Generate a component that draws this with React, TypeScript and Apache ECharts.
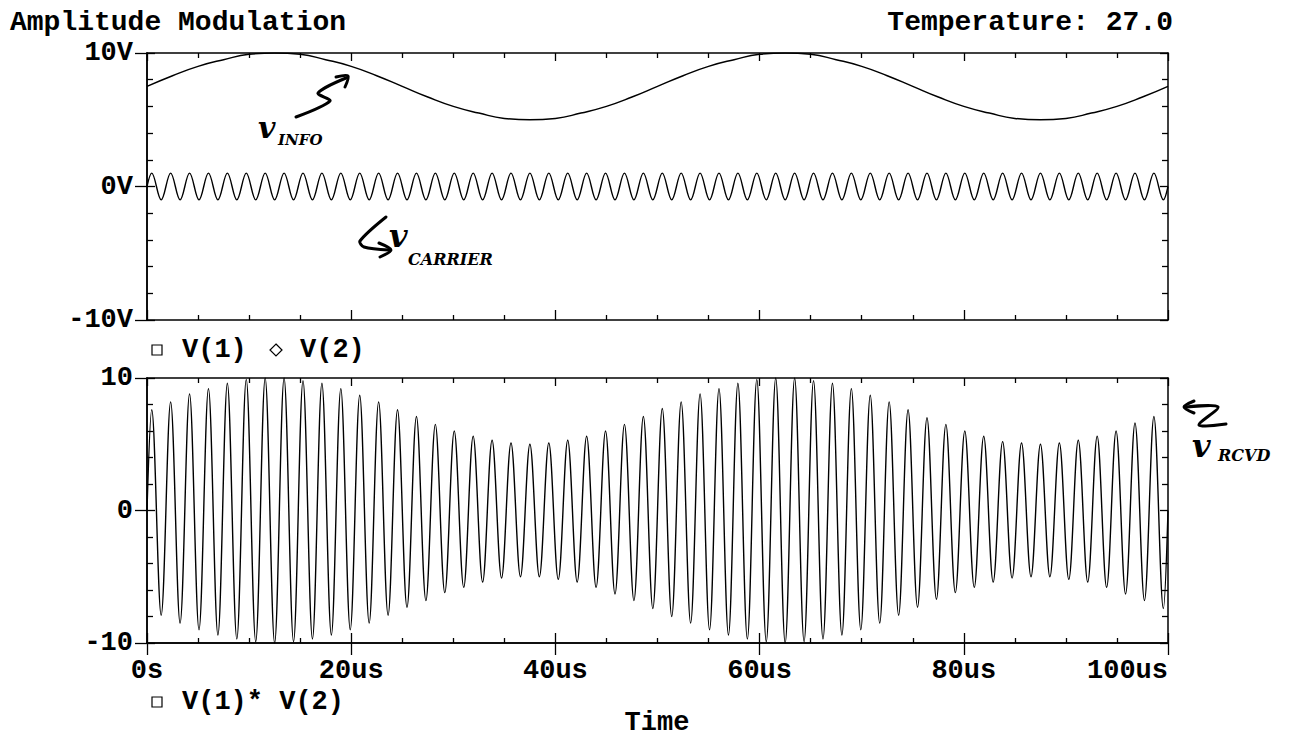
import React, { useEffect, useRef } from "react";
import * as echarts from "echarts";

// ---------- data ----------
const TIME_MIN_US = 0;
const TIME_MAX_US = 100;
const X_TICK_LABELS: Record<number, string> = { 0: "0s", 20: "20us", 40: "40us", 60: "60us", 80: "80us", 100: "100us" };
const TOP_Y_LABELS: Record<number, string> = { 10: "10V", 0: "0V", "-10": "-10V" } as any;
const BOTTOM_Y_LABELS: Record<number, string> = { 10: "10", 0: "0", "-10": "-10" } as any;

// V(1): information signal, sampled every 2.5 us
const INFO_TIME_US = [
  0, 2.5, 5, 7.5, 10, 12.5, 15, 17.5, 20, 22.5, 25, 27.5, 30, 32.5, 35, 37.5, 40, 42.5, 45, 47.5,
  50, 52.5, 55, 57.5, 60, 62.5, 65, 67.5, 70, 72.5, 75, 77.5, 80, 82.5, 85, 87.5, 90, 92.5, 95, 97.5, 100,
];
const INFO_V = [
  7.5, 8.3, 9.0, 9.5, 9.9, 10.0, 9.9, 9.5, 9.0, 8.3, 7.5, 6.7, 6.0, 5.5, 5.1, 5.0, 5.1, 5.5, 6.0, 6.7,
  7.5, 8.3, 9.0, 9.5, 9.9, 10.0, 9.9, 9.5, 9.0, 8.3, 7.5, 6.7, 6.0, 5.5, 5.1, 5.0, 5.1, 5.5, 6.0, 6.7, 7.5,
];

// carrier: successive peak values (one per half cycle), read at the peaks
const CARRIER_HALF_PERIOD_US = 0.926;
const FIRST_PEAK_US = 0.463;
const CARRIER_START_V = 0;
const CARRIER_END_V = 0;
const CARRIER_PEAK_V = [
  1, -1, 1, -1, 1, -1, 1, -1, 1, -1, 1, -1, 1, -1, 1, -1, 1, -1, 1, -1,
  1, -1, 1, -1, 1, -1, 1, -1, 1, -1, 1, -1, 1, -1, 1, -1, 1, -1, 1, -1,
  1, -1, 1, -1, 1, -1, 1, -1, 1, -1, 1, -1, 1, -1, 1, -1, 1, -1, 1, -1,
  1, -1, 1, -1, 1, -1, 1, -1, 1, -1, 1, -1, 1, -1, 1, -1, 1, -1, 1, -1,
  1, -1, 1, -1, 1, -1, 1, -1, 1, -1, 1, -1, 1, -1, 1, -1, 1, -1, 1, -1,
  1, -1, 1, -1, 1, -1, 1, -1,
];

// V(1)*V(2): successive peak values of the received signal
const PRODUCT_START_V = 0;
const PRODUCT_END_V = 0;
const PRODUCT_PEAK_V = [
  7.6, -7.9, 8.2, -8.5, 8.8, -9.0, 9.2, -9.4, 9.6, -9.7, 9.9, -9.9, 10.0, -10.0, 10.0, -9.9, 9.8, -9.7, 9.6, -9.4,
  9.2, -9.0, 8.7, -8.5, 8.2, -7.9, 7.6, -7.3, 7.1, -6.8, 6.5, -6.2, 6.0, -5.8, 5.6, -5.4, 5.3, -5.1, 5.1, -5.0,
  5.0, -5.0, 5.1, -5.2, 5.3, -5.4, 5.6, -5.8, 6.0, -6.3, 6.5, -6.8, 7.1, -7.4, 7.7, -8.0, 8.2, -8.5, 8.8, -9.0,
  9.2, -9.4, 9.6, -9.7, 9.9, -9.9, 10.0, -10.0, 10.0, -9.9, 9.8, -9.7, 9.6, -9.4, 9.2, -9.0, 8.7, -8.5, 8.2, -7.9,
  7.6, -7.3, 7.0, -6.7, 6.5, -6.2, 6.0, -5.8, 5.6, -5.4, 5.2, -5.1, 5.1, -5.0, 5.0, -5.0, 5.1, -5.2, 5.3, -5.4,
  5.6, -5.8, 6.0, -6.3, 6.6, -6.8, 7.1, -7.4,
];

// ---------- helpers ----------
const peakSeries = (start: number, peaks: number[], end: number) => {
  const pts: number[][] = [[TIME_MIN_US, start]];
  peaks.forEach((v, i) => pts.push([FIRST_PEAK_US + i * CARRIER_HALF_PERIOD_US, v]));
  pts.push([TIME_MAX_US, end]);
  return pts;
};

const FONT = '"Liberation Mono", "Courier New", monospace';
const FS = 27;
const TITLE_FS = 28;
const BLACK = "#000";
const HAND = '"DejaVu Serif", serif';

const lineAxis = { show: true, onZero: false, lineStyle: { color: BLACK, width: 1.5 } };

const xInside = (gridIndex: number, position: "top" | "bottom", major: number) => ({
  type: "value",
  gridIndex,
  position,
  min: TIME_MIN_US,
  max: TIME_MAX_US,
  interval: 20,
  axisLine: lineAxis,
  axisTick: { show: true, inside: true, length: major, lineStyle: { color: BLACK, width: 1.3 } },
  minorTick: { show: true, splitNumber: 4, length: 5, lineStyle: { color: BLACK, width: 1.3 } },
  axisLabel: { show: false },
  splitLine: { show: false },
  minorSplitLine: { show: false },
});

const yInside = (gridIndex: number, position: "left" | "right") => ({
  type: "value",
  gridIndex,
  position,
  min: -10,
  max: 10,
  interval: 10,
  axisLine: lineAxis,
  axisTick: { show: true, inside: true, length: 8, lineStyle: { color: BLACK, width: 1.3 } },
  minorTick: { show: true, splitNumber: 5, length: 6, lineStyle: { color: BLACK, width: 1.3 } },
  axisLabel: { show: false },
  splitLine: { show: false },
  minorSplitLine: { show: false },
});

const yLabelled = (gridIndex: number, labels: Record<number, string>) => ({
  type: "value",
  gridIndex,
  position: "left",
  min: -10,
  max: 10,
  interval: 10,
  axisLine: lineAxis,
  axisTick: { show: true, inside: false, length: 12, lineStyle: { color: BLACK, width: 1.3 } },
  axisLabel: {
    show: true,
    margin: 14,
    color: BLACK,
    fontFamily: FONT,
    fontWeight: "bold",
    fontSize: FS,
    formatter: (v: number) => labels[v] ?? "",
  },
  splitLine: { show: false },
});

const text = (t: string, x: number, y: number, extra: any = {}, size = FS) => ({
  type: "text",
  x,
  y,
  silent: true,
  style: {
    text: t,
    fill: BLACK,
    font: `bold ${size}px ${FONT}`,
    textAlign: "left",
    textVerticalAlign: "middle",
    ...extra,
  },
});

const hand = (t: string, x: number, y: number, size: number) => ({
  type: "text",
  x,
  y,
  silent: true,
  style: {
    text: t,
    fill: BLACK,
    font: `italic bold ${size}px ${HAND}`,
    textAlign: "left",
    textVerticalAlign: "middle",
  },
});

const stroke = (points: number[][], w = 3) => ({
  type: "polyline",
  silent: true,
  shape: { points, smooth: 0.3 },
  style: { stroke: BLACK, lineWidth: w, fill: "none", lineCap: "round", lineJoin: "round" },
});

const square = (x: number, y: number) => ({
  type: "rect",
  silent: true,
  shape: { x: x, y: y - 5, width: 10, height: 10 },
  style: { stroke: BLACK, lineWidth: 1.2, fill: "#fff" },
});

const diamond = (cx: number, cy: number) => ({
  type: "polygon",
  silent: true,
  shape: { points: [[cx, cy - 6], [cx + 6, cy], [cx, cy + 6], [cx - 6, cy]] },
  style: { stroke: BLACK, lineWidth: 1.2, fill: "#fff" },
});

const option: any = {
  animation: false,
  backgroundColor: "#fff",
  grid: [
    { left: 147, top: 53, width: 1021, height: 267, containLabel: false, outerBoundsMode: "none" },
    { left: 147, top: 378, width: 1021, height: 265, containLabel: false, outerBoundsMode: "none" },
  ],
  xAxis: [
    xInside(0, "bottom", 10),
    xInside(0, "top", 8),
    {
      type: "value",
      gridIndex: 1,
      position: "bottom",
      min: TIME_MIN_US,
      max: TIME_MAX_US,
      interval: 20,
      axisLine: lineAxis,
      axisTick: { show: true, inside: false, length: 12, lineStyle: { color: BLACK, width: 1.3 } },
      axisLabel: {
        show: true,
        margin: 14,
        color: BLACK,
        fontFamily: FONT,
        fontWeight: "bold",
        fontSize: FS,
        showMinLabel: true,
        showMaxLabel: true,
        alignMaxLabel: "right",
        formatter: (v: number) => X_TICK_LABELS[v] ?? "",
      },
      splitLine: { show: false },
    },
    xInside(1, "bottom", 10),
    xInside(1, "top", 8),
  ],
  yAxis: [
    yLabelled(0, TOP_Y_LABELS),
    yInside(0, "left"),
    yInside(0, "right"),
    yLabelled(1, BOTTOM_Y_LABELS),
    yInside(1, "left"),
    yInside(1, "right"),
  ],
  series: [
    {
      name: "V(1)",
      type: "line",
      xAxisIndex: 0,
      yAxisIndex: 0,
      data: INFO_TIME_US.map((t, i) => [t, INFO_V[i]]),
      smooth: 0.5,
      showSymbol: false,
      lineStyle: { color: BLACK, width: 1.5 },
    },
    {
      name: "V(2)",
      type: "line",
      xAxisIndex: 0,
      yAxisIndex: 0,
      data: peakSeries(CARRIER_START_V, CARRIER_PEAK_V, CARRIER_END_V),
      smooth: 0.36,
      showSymbol: false,
      lineStyle: { color: BLACK, width: 1.4 },
    },
    {
      name: "V(1)* V(2)",
      type: "line",
      xAxisIndex: 2,
      yAxisIndex: 3,
      data: peakSeries(PRODUCT_START_V, PRODUCT_PEAK_V, PRODUCT_END_V),
      smooth: 0.36,
      showSymbol: false,
      lineStyle: { color: BLACK, width: 1.4 },
    },
  ],
  graphic: [
    text("Amplitude Modulation", 10, 22, {}, TITLE_FS),
    text("Temperature: 27.0", 1173, 22, { textAlign: "right" }, TITLE_FS),
    square(152, 350),
    text("V(1)", 182, 350),
    diamond(276, 350),
    text("V(2)", 300, 350),
    square(152, 702),
    text("V(1)* V(2)", 182, 702),
    text("Time", 657, 723, { textAlign: "center" }),
    // handwritten annotations
    stroke([[296, 117], [330, 101], [318, 93], [346, 78]]),
    stroke([[336, 77], [348, 76], [345, 87]]),
    hand("v", 258, 127, 30),
    hand("INFO", 278, 140, 15),
    stroke([[386, 217], [360, 241], [364, 247], [389, 250]]),
    stroke([[379, 243], [391, 250], [380, 257]]),
    hand("v", 389, 236, 32),
    hand("CARRIER", 408, 259, 16),
    stroke([[1186, 407], [1218, 407], [1199, 425], [1226, 424]]),
    stroke([[1194, 401], [1184, 407], [1194, 413]]),
    hand("v", 1192, 446, 32),
    hand("RCVD", 1218, 455, 16),
  ],
};

export default function App() {
  const ref = useRef<HTMLDivElement>(null);
  useEffect(() => {
    document.body.style.margin = "0";
    const chart = echarts.init(ref.current!, null, { renderer: "svg" });
    chart.setOption(option);
    return () => chart.dispose();
  }, []);
  return <div ref={ref} style={{ width: 1310, height: 740, background: "#fff" }} />;
}
